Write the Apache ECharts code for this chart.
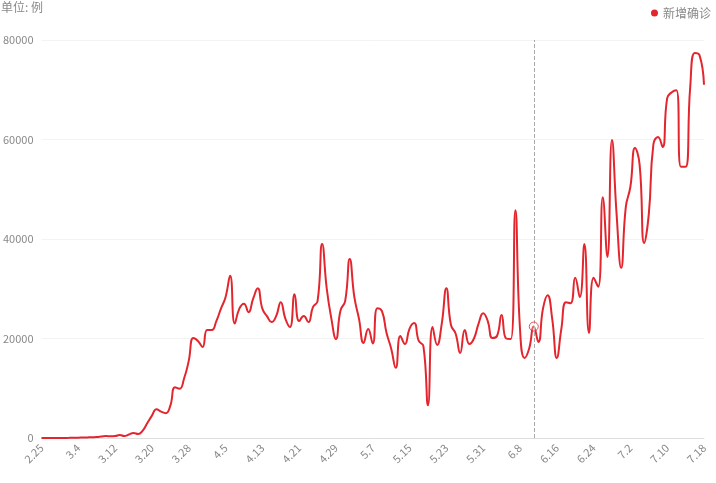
<!DOCTYPE html>
<html>
<head>
<meta charset="utf-8">
<script src="https://cdn.jsdelivr.net/npm/echarts@6/dist/echarts.min.js"></script>
<style>html,body{margin:0;padding:0;background:#fff}#chart{width:716px;height:483px}</style>
</head>
<body>
<div id="chart"></div>
<script>
// 日期（2.25 - 7.18）
const startMonth = 2, startDay = 25, dayCount = 145
const monthDays = [0, 31, 29, 31, 30, 31, 30, 31]
const dates = []
let m = startMonth, d = startDay
for (let i = 0; i < dayCount; i++) {
  dates.push(m + '.' + d)
  d++
  if (d > monthDays[m]) { d = 1; m++ }
}

// 新增确诊
const newCases = [
  0, 10, 5, 10, 10, 20, 30, 50, 70, 100,
  120, 150, 200, 300, 400, 350, 400, 600, 400, 700,
  1000, 800, 1500, 3000, 4500, 5800, 5300, 5000, 6500, 10200,
  9900, 12000, 15500, 20100, 19500, 18300, 21700, 21700, 23500, 26000,
  28300, 32600, 23000, 26000, 27000, 25300, 28000, 30100, 26000, 24500,
  23300, 24500, 27300, 24000, 22300, 28900, 23500, 24500, 23300, 26300,
  27500, 39000, 30000, 24000, 19900, 25700, 27500, 36000, 28300, 24000,
  19100, 21900, 19000, 26100, 25500, 21100, 18000, 14100, 20500, 18900,
  22000, 23100, 19500, 18500, 6600, 22300, 18700, 23000, 30100, 22700,
  21000, 17100, 21700, 18900, 20000, 23000, 25100, 23500, 20100, 20500,
  24700, 20000, 19900, 45800, 22000, 16100, 18000, 22400, 19300, 26000,
  28700, 24000, 16100, 22000, 27300, 27100, 32200, 28300, 39000, 21100,
  32200, 30400, 48400, 36400, 59900, 45000, 34200, 46400, 50500, 58300,
  55000, 39200, 45000, 59000, 60500, 58500, 68300, 69500, 69900, 54500,
  54500, 70500, 77400, 77000, 71000
]
const hoverIndex = 107

const chart = echarts.init(document.getElementById('chart'))
chart.setOption({
  animation: false,
  textStyle: { fontFamily: 'Noto Sans CJK SC' },
  title: {
    text: '单位: 例', left: -4, top: -4,
    textStyle: { fontSize: 12, fontWeight: 'normal', color: '#888' }
  },
  legend: {
    right: 0, top: 2, icon: 'circle', itemWidth: 7, itemHeight: 7, itemGap: 4,
    textStyle: { color: '#888', fontSize: 12 },
    data: ['新增确诊']
  },
  grid: { left: 38, right: 12, top: 40, bottom: 45 },
  xAxis: {
    type: 'category',
    boundaryGap: false,
    data: dates,
    axisLine: { lineStyle: { color: '#ddd' } },
    axisTick: { show: false },
    axisLabel: { interval: 7, rotate: 45, color: '#888', fontSize: 11 }
  },
  yAxis: {
    type: 'value',
    min: 0, max: 80000, interval: 20000,
    axisLine: { show: false },
    axisTick: { show: false },
    axisLabel: { color: '#888', fontSize: 11, formatter: v => String(v) },
    splitLine: { lineStyle: { color: '#f3f3f3' } }
  },
  series: [{
    name: '新增确诊',
    type: 'line',
    data: newCases,
    smooth: true,
    showSymbol: false,
    color: '#e3262e',
    lineStyle: { width: 2, color: '#e3262e' },
    markLine: {
      silent: true, symbol: 'none', label: { show: false },
      lineStyle: { color: '#aaa', type: 'dashed', width: 1 },
      data: [{ xAxis: hoverIndex }]
    }
  }, {
    name: 'hover',
    type: 'scatter',
    symbol: 'circle',
    symbolSize: 9,
    z: 5,
    itemStyle: { color: 'rgba(255,255,255,0.3)', borderColor: '#e3262e', borderWidth: 1 },
    data: newCases.map((v, i) => i === hoverIndex ? v : null)
  }]
})
</script>
</body>
</html>
